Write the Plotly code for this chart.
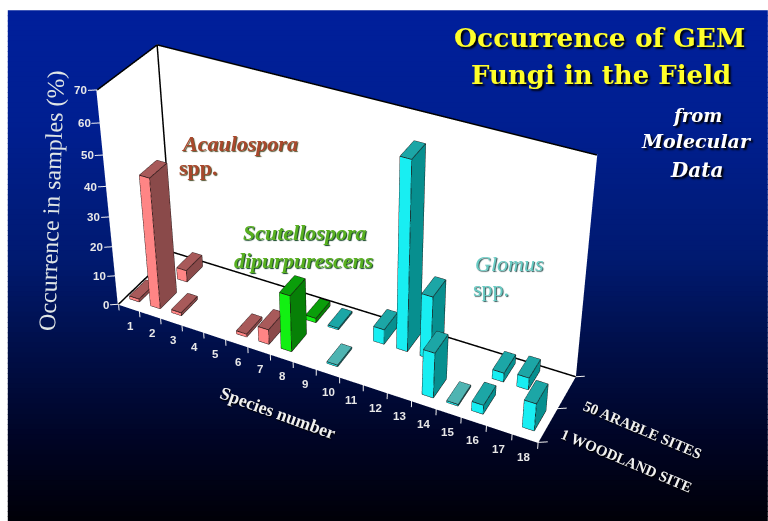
import numpy as np
import plotly.graph_objects as go

species = list(range(1, 19))
woodland = [1, 44, 1, 0, 0, 1, 5, 19, 0, 0.5, 0, 0, 0, 15, 0.5, 3, 0, 9]
arable = [0, 4, 0, 0, 0, 0, 0, 1.5, 0.5, 0, 5, 62, 21, 0, 0, 3, 4, 0]
z_ticks = [0, 10, 20, 30, 40, 50, 60, 70]

PINK = ("#ff8585", "#8a4a4a", "#a85a5a")
GREEN = ("#12f012", "#078007", "#0a9e0a")
CYAN = ("#18eef2", "#078f8f", "#1ca6a6")
PALE_TOP = "#4fb4b2"


def genus(s):
    return PINK if s <= 7 else GREEN if s == 8 else CYAN


XR, YR, ZR = (-1.0, 20.0), (-1.0, 3.0), (-15.0, 80.0)
X0, X1, Y0, Y1, Z0, Z1 = 0.5, 18.5, 0.0, 2.0, 0.0, 70.0

# Camera calibrated against the reference's box corners and axis ticks.
# plotly's field of view is fixed at 45 degrees, so the long lens and the high
# vanishing point of the original need a taller scene that starts above the window.
EYE = (2.2675, -4.3543, 3.4808)
CENTER = (0.0577, 0.3457, 0.4403)
UP = (-0.2279, 0.4511, 0.8629)
ASPECT = (2.2337, 0.8496, 1.4298)
W, H = 787, 1244
LEFT, TOP = -1.8, -510.2


def paper(px, py):
    return (px - LEFT) / W, 1 - (py - TOP) / H


fig = go.Figure()

FLAT = dict(ambient=1, diffuse=0, specular=0, fresnel=0)
wx0, wy1, wz0 = X0 - 0.04, Y1 + 0.02, Z0 - 0.2
fig.add_trace(go.Mesh3d(
    x=[wx0, X1, X1, wx0, wx0, X1, X1, wx0, wx0, wx0],
    y=[Y0, Y0, wy1, wy1, wy1, wy1, wy1, wy1, Y0, Y0],
    z=[wz0, wz0, wz0, wz0, wz0, wz0, Z1, Z1, wz0, Z1],
    i=[0, 0, 4, 4, 3, 3], j=[1, 2, 5, 6, 7, 9], k=[2, 3, 6, 7, 9, 8],
    color="white", flatshading=True, lighting=FLAT, hoverinfo="skip", showscale=False))


def add_bar(s, row, v):
    x0, x1 = s - 0.30, s + 0.16
    y0, y1 = (0.25, 0.85) if row == 0 else (1.25, 1.85)
    vx = [x0, x1, x1, x0, x0, x1, x1, x0]
    vy = [y0, y0, y1, y1, y0, y0, y1, y1]
    vz = [0, 0, 0, 0, v, v, v, v]
    fc, sc, tc = genus(s)
    if s > 8 and v <= 0.5 and s != 9:
        tc = PALE_TOP
    fig.add_trace(go.Mesh3d(
        x=vx, y=vy, z=vz,
        i=[0, 0, 1, 1, 4, 4, 3, 3, 0, 0], j=[1, 5, 2, 6, 5, 6, 2, 6, 3, 7], k=[5, 4, 6, 5, 6, 7, 6, 7, 7, 4],
        facecolor=[fc, fc, sc, sc, tc, tc, sc, sc, fc, fc], flatshading=True,
        lighting=FLAT, hovertemplate="Species %d: %s%%<extra></extra>" % (s, v), showscale=False))
    ex, ey, ez = [], [], []
    for a, b in [(0, 1), (1, 2), (0, 4), (1, 5), (2, 6), (4, 5), (5, 6), (6, 7), (7, 4)]:
        ex += [vx[a], vx[b], None]
        ey += [vy[a], vy[b], None]
        ez += [vz[a], vz[b], None]
    fig.add_trace(go.Scatter3d(x=ex, y=ey, z=ez, mode="lines", line=dict(color="#1a1010", width=1.5),
                               hoverinfo="skip", showlegend=False))


for s, v in zip(species, woodland):
    if v:
        add_bar(s, 0, v)
for s, v in zip(species, arable):
    if v:
        add_bar(s, 1, v)

fx = [X0, X0, None, X0, X1, None, X0, X0, None, X0, X1, None, X0, X0]
fy = [Y0, Y1, None, Y1, Y1, None, Y1, Y1, None, Y1, Y1, None, Y0, Y1]
fz = [Z1, Z1, None, Z1, Z1, None, Z1, Z0, None, Z0, Z0, None, Z0, Z0]
fig.add_trace(go.Scatter3d(x=fx, y=fy, z=fz, mode="lines", line=dict(color="black", width=3),
                           hoverinfo="skip", showlegend=False))

tx, ty, tz = [], [], []
for z in z_ticks:
    tx += [X0, X0 - 0.28, None]
    ty += [Y0, Y0 - 0.09, None]
    tz += [z, z, None]
for i in range(0, 19):
    tx += [X0 + i, X0 + i, None]
    ty += [Y0, Y0, None]
    tz += [0, -2.2, None]
for y in [Y0, 1.0, Y1]:
    tx += [X1, X1 + 0.3, None]
    ty += [y, y + 0.09, None]
    tz += [0, 0, None]
fig.add_trace(go.Scatter3d(x=tx, y=ty, z=tz, mode="lines", line=dict(color="#f0f0f0", width=2),
                           hoverinfo="skip", showlegend=False))

TICKF = dict(family="Liberation Sans", size=11.5, color="#e8e8e8", weight="bold")
scene_ann = []
for z in z_ticks:
    scene_ann.append(dict(x=X0 - 0.24, y=Y0 - 0.08, z=z, text=str(z), showarrow=False,
                          xanchor="right", yanchor="middle", font=TICKF))
for s in species:
    scene_ann.append(dict(x=s, y=Y0, z=-6.5, text=str(s), showarrow=False,
                          xanchor="center", yanchor="middle", font=TICKF))

fig.update_layout(
    width=W, height=H, margin=dict(l=0, r=0, t=0, b=0), paper_bgcolor="white", showlegend=False,
    scene=dict(
        domain=dict(x=[0, 1], y=[0, 1]), aspectmode="manual",
        aspectratio=dict(x=ASPECT[0], y=ASPECT[1], z=ASPECT[2]),
        camera=dict(eye=dict(x=EYE[0], y=EYE[1], z=EYE[2]),
                    center=dict(x=CENTER[0], y=CENTER[1], z=CENTER[2]),
                    up=dict(x=UP[0], y=UP[1], z=UP[2]),
                    projection=dict(type="perspective")),
        xaxis=dict(range=XR, visible=False), yaxis=dict(range=YR, visible=False), zaxis=dict(range=ZR, visible=False),
        annotations=scene_ann, bgcolor="rgba(0,0,0,0)"))

stops = [(10, (0, 32, 156)), (130, (0, 31, 144)), (260, (0, 26, 112)), (350, (0, 15, 72)), (440, (0, 5, 37)), (521, (0, 0, 8))]
ys = [s[0] for s in stops]
bands = np.linspace(10, 521, 101)
shapes = []
for a, b in zip(bands[:-1], bands[1:]):
    m = (a + b) / 2
    col = [int(np.interp(m, ys, [s[1][i] for s in stops])) for i in range(3)]
    shapes.append(dict(type="rect", xref="paper", yref="paper", x0=paper(8, 0)[0], x1=paper(768, 0)[0],
                       y0=paper(0, b + 1)[1], y1=paper(0, a)[1], fillcolor="rgb(%d,%d,%d)" % tuple(col),
                       line=dict(width=0), layer="below"))
fig.update_layout(shapes=shapes)


def note(text, px, py, family, size, color, bold=False, italic=False, angle=0, shadow=None):
    x, y = paper(px, py)
    fig.add_annotation(xref="paper", yref="paper", x=x, y=y, text=text, showarrow=False, textangle=angle,
                       xanchor="center", yanchor="middle",
                       font=dict(family=family, size=size, color=color, weight="bold" if bold else "normal",
                                 style="italic" if italic else "normal", shadow=shadow or "none"))


DS = "DejaVu Serif"
LS = "Liberation Serif"
note("Occurrence of GEM", 600, 37, DS, 26.5, "#ffff2a", bold=True, shadow="2px 2px 2px #000")
note("Fungi in the Field", 601, 75, DS, 26, "#ffff2a", bold=True, shadow="2px 2px 2px #000")
note("from", 697, 115, DS, 18, "white", bold=True, italic=True, shadow="2px 2px 2px #000")
note("Molecular", 697, 141, DS, 19, "white", bold=True, italic=True, shadow="2px 2px 2px #000")
note("Data", 697, 170, DS, 20, "white", bold=True, italic=True, shadow="2px 2px 2px #000")
note("Acaulospora", 240, 143, LS, 22, "#a8482c", bold=True, italic=True, shadow="1px 1px 1px #553")
note("spp.", 199, 167, LS, 22, "#a8482c", bold=True, shadow="1px 1px 1px #553")
note("Scutellospora", 305, 232, LS, 22, "#58b020", bold=True, italic=True, shadow="1px 1px 1px #142")
note("dipurpurescens", 304, 260, LS, 22, "#58b020", bold=True, italic=True, shadow="1px 1px 1px #142")
note("Glomus", 509, 263, LS, 22, "#68ccc4", italic=True, shadow="1px 1px 1px #355")
note("spp.", 491, 288, LS, 22, "#68ccc4", shadow="1px 1px 1px #355")
note("Occurrence in samples (%)", 52, 200, LS, 24, "#e0e6e6", angle=-88)
note("Species number", 278, 413, LS, 18, "#f0f0f0", bold=True, angle=20, shadow="1px 1px 1px #000")
note("50 ARABLE SITES", 643, 430, LS, 15, "#f0f0f0", bold=True, angle=23, shadow="1px 1px 1px #000")
note("1 WOODLAND SITE", 627, 461, LS, 15, "#f0f0f0", bold=True, angle=23, shadow="1px 1px 1px #000")

post = ("var g=document.getElementById('{plot_id}');g.style.position='absolute';g.style.left='%.1fpx';g.style.top='%.1fpx';"
        "document.body.style.margin='0';document.body.style.overflow='hidden';document.documentElement.style.overflow='hidden';") % (LEFT, TOP)
fig.write_html("out.html", post_script=post)
